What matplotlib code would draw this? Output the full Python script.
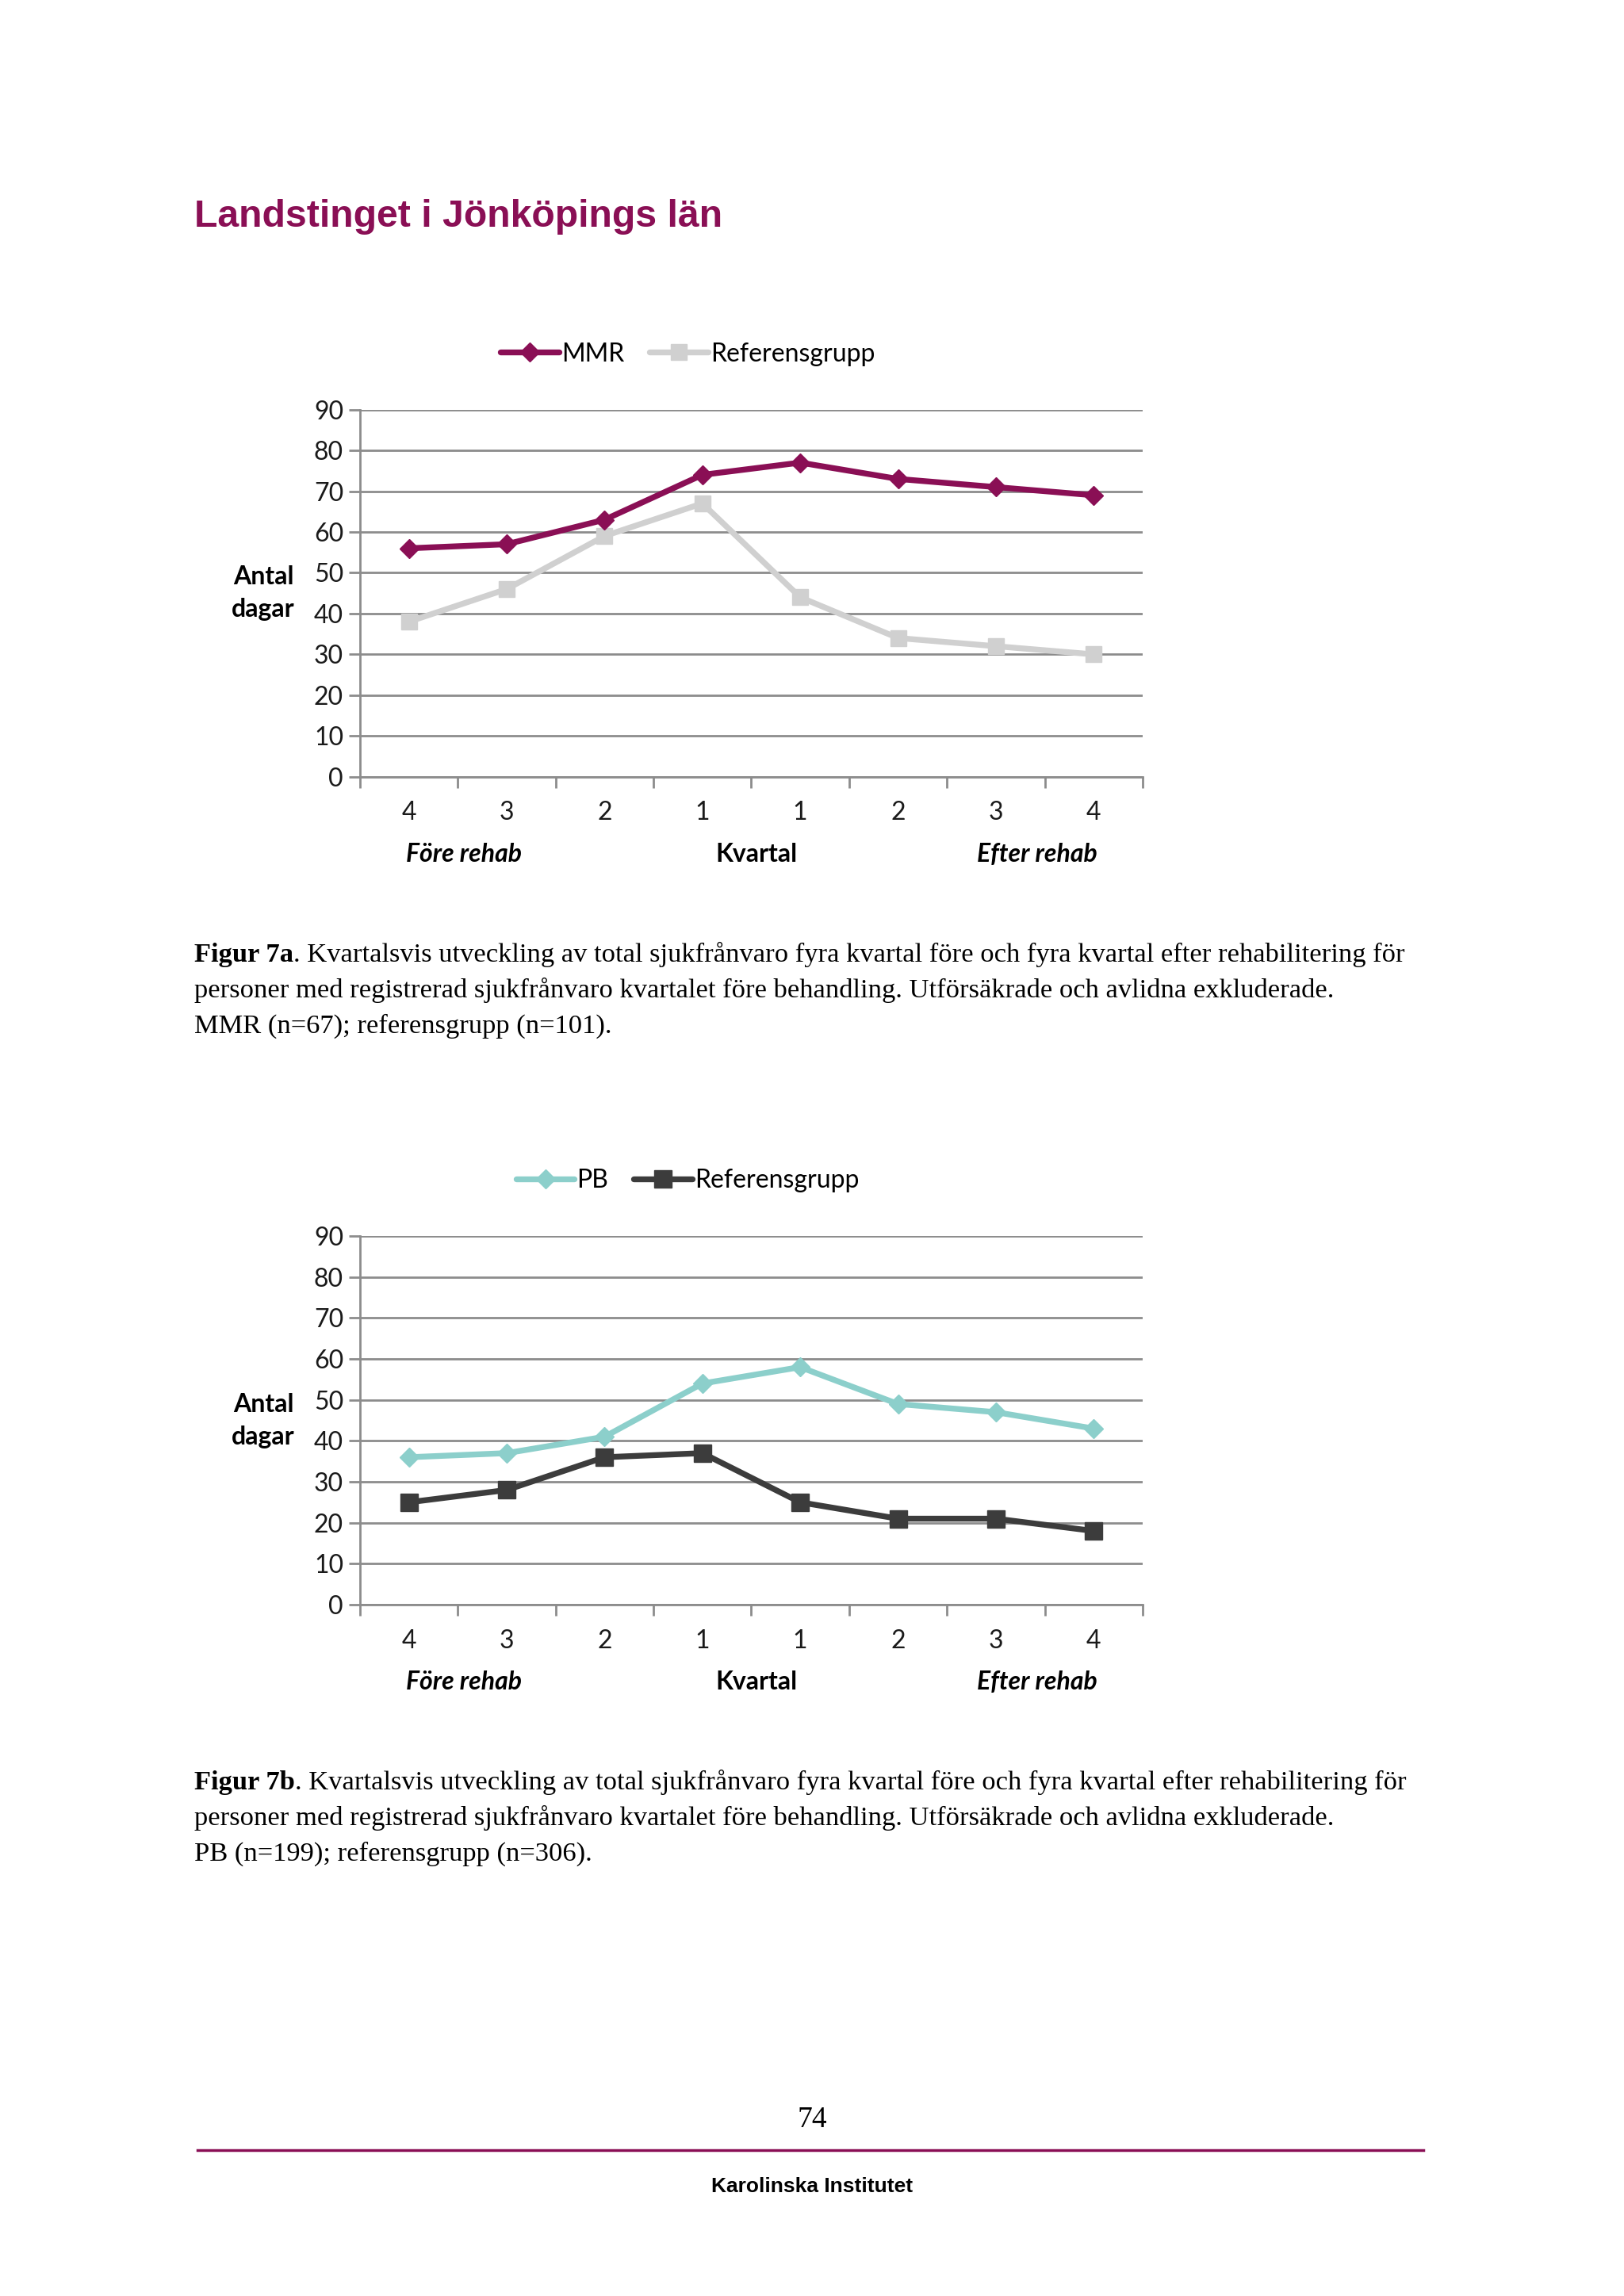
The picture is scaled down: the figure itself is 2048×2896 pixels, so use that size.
import matplotlib.pyplot as plt
from matplotlib.lines import Line2D

# quarters: 4 before rehab .. 4 after rehab
kvartal = ['4', '3', '2', '1', '1', '2', '3', '4']

mmr = [56, 57, 63, 74, 77, 73, 71, 69]
ref_a = [38, 46, 59, 67, 44, 34, 32, 30]

pb = [36, 37, 41, 54, 58, 49, 47, 43]
ref_b = [25, 28, 36, 37, 25, 21, 21, 18]

W, H = 1110.0, 1569.6  # reference size in page px, used for placing things


def fx(x):
    return x / W


def fy(y):
    return 1 - y / H


CHART_FONT = ['Lato', 'DejaVu Sans']
CF = 23  # chart font size
GRID = '#8c8c8c'

fig = plt.figure(figsize=(20.48, 28.96), dpi=100)
fig.patch.set_facecolor('white')

fig.text(fx(133), fy(148), 'Landstinget i Jönköpings län', family='Liberation Sans',
         weight='bold', fontsize=34.7, color='#8a0f55', va='center', ha='left')


def draw_chart(top, bottom, s1, s2, name1, c1, c2, ms2, legend_x):
    ax = fig.add_axes([fx(246), fy(bottom), fx(781) - fx(246), fy(top) - fy(bottom)])
    x = list(range(len(kvartal)))
    ax.plot(x, s1, color=c1, lw=5.3, marker='D', ms=12, zorder=4, label=name1)
    ax.plot(x, s2, color=c2, lw=5.3, marker='s', ms=ms2, zorder=3, label='Referensgrupp')
    ax.set_xlim(-0.5, len(kvartal) - 0.5)
    ax.set_ylim(0, 90)
    ax.set_yticks(range(0, 91, 10))
    ax.yaxis.grid(True, color=GRID, lw=2)
    ax.set_axisbelow(True)
    for s in ['top', 'right']:
        ax.spines[s].set_visible(False)
    for s in ['left', 'bottom']:
        ax.spines[s].set_color(GRID)
        ax.spines[s].set_linewidth(2)
    ax.set_xticks(x)
    ax.set_xticklabels(kvartal)
    ax.set_xticks([i - 0.5 for i in range(len(kvartal) + 1)], minor=True)
    ax.tick_params(axis='x', which='major', length=0, pad=22)
    ax.tick_params(axis='x', which='minor', length=10, width=2, color=GRID, direction='out')
    ax.tick_params(axis='y', length=10, width=2, color=GRID, pad=5)
    for lab in ax.get_xticklabels() + ax.get_yticklabels():
        lab.set_family(CHART_FONT)
        lab.set_fontsize(CF)
        lab.set_color('#1a1a1a')

    fig.text(fx(180), fy((top + bottom) / 2), 'Antal\ndagar', family=CHART_FONT,
             weight='bold', fontsize=CF, ha='center', va='center', linespacing=1.5)
    gy = fy(bottom + 53)
    fig.text(fx(317), gy, 'Före rehab', family=CHART_FONT, weight='bold', style='italic',
             fontsize=CF, ha='center', va='center')
    fig.text(fx(517), gy, 'Kvartal', family=CHART_FONT, weight='bold',
             fontsize=CF, ha='center', va='center')
    fig.text(fx(709), gy, 'Efter rehab', family=CHART_FONT, weight='bold', style='italic',
             fontsize=CF, ha='center', va='center')

    handles = [Line2D([], [], color=c1, lw=5.3, marker='D', ms=12, solid_capstyle='round'),
               Line2D([], [], color=c2, lw=5.3, marker='s', ms=ms2, solid_capstyle='round')]
    fig.legend(handles, [name1, 'Referensgrupp'], loc='center', ncol=2,
               bbox_to_anchor=(fx(legend_x), fy(top - 38)), frameon=False,
               prop={'family': CHART_FONT, 'size': CF}, handlelength=2.3,
               handletextpad=0.1, columnspacing=1.0)
    return ax


draw_chart(280, 531, mmr, ref_a, 'MMR', '#8a0f55', '#d0d0d0', 15, 470)
ax2 = draw_chart(845, 1097, pb, ref_b, 'PB', '#8ccfcb', '#3c3c3c', 16, 470)

CAP = 24.8


def caption(y, label, rest, last):
    t = fig.text(fx(133), fy(y), label, family='Liberation Serif', weight='bold',
                 fontsize=CAP, va='bottom', ha='left')
    ax2.annotate(rest, xy=(1, 0), xycoords=t, va='bottom', ha='left',
                 family='Liberation Serif', fontsize=CAP, annotation_clip=False)
    fig.text(fx(133), fy(y + 24.5), 'personer med registrerad sjukfrånvaro kvartalet före behandling. '
             'Utförsäkrade och avlidna exkluderade.', family='Liberation Serif',
             fontsize=CAP, va='bottom', ha='left')
    fig.text(fx(133), fy(y + 49), last, family='Liberation Serif',
             fontsize=CAP, va='bottom', ha='left')


caption(661, 'Figur 7a', '. Kvartalsvis utveckling av total sjukfrånvaro fyra kvartal före och '
        'fyra kvartal efter rehabilitering för', 'MMR (n=67); referensgrupp (n=101).')
caption(1227, 'Figur 7b', '. Kvartalsvis utveckling av total sjukfrånvaro fyra kvartal före och '
        'fyra kvartal efter rehabilitering för', 'PB (n=199); referensgrupp (n=306).')

fig.text(fx(555), fy(1449), '74', family='Liberation Serif', fontsize=27,
         ha='center', va='center')
fig.add_artist(Line2D([fx(135), fx(973)], [fy(1470), fy(1470)], color='#8a0f55', lw=2.5))
fig.text(fx(555), fy(1495), 'Karolinska Institutet', family='Liberation Sans', weight='bold',
         fontsize=19, ha='center', va='center')

fig.savefig('out.png', dpi=100)
